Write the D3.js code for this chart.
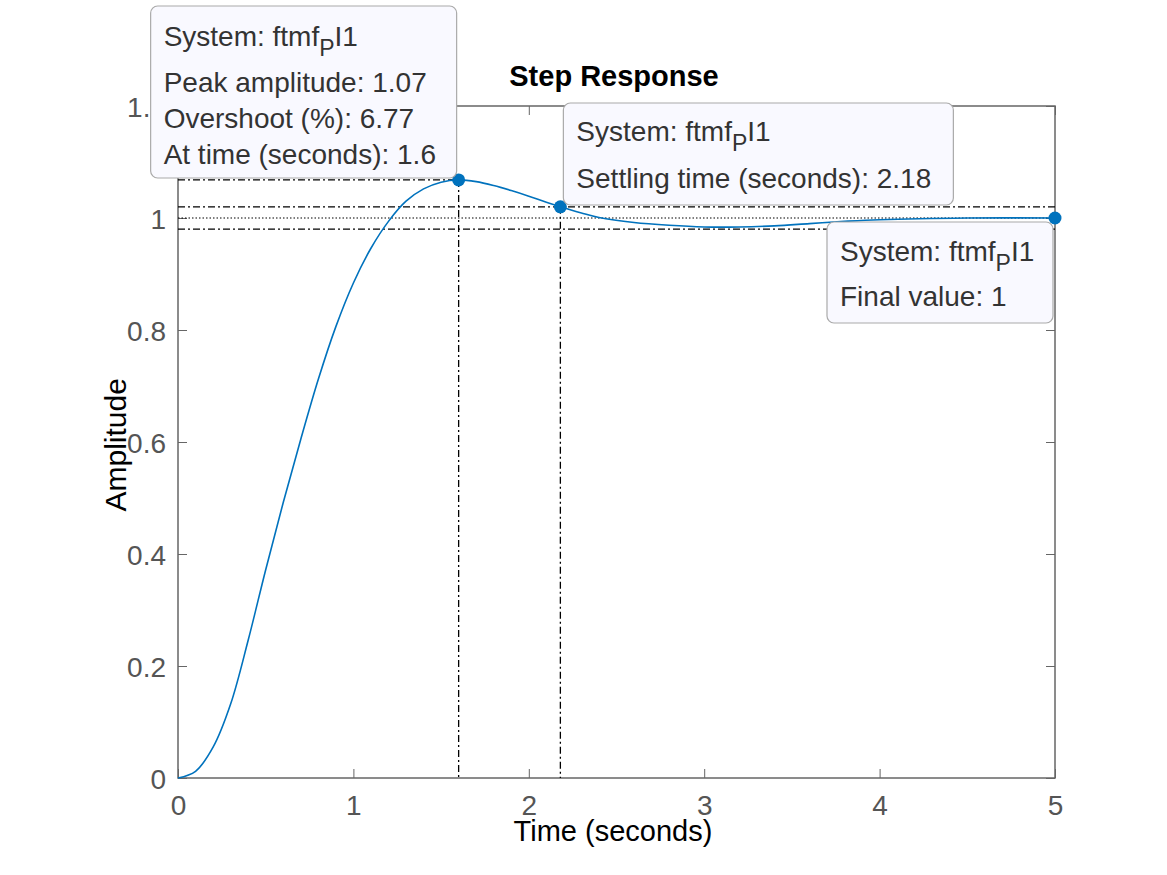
<html>
<head>
<style>
  body { margin: 0; background: #fff; }
  svg { font-family: "Liberation Sans", Arial, sans-serif; }
  .tick text { fill: #555; font-size: 28px; }
  .tick line { stroke: #666; }
  .domain { display: none; }
</style>
</head>
<body>
<svg width="1167" height="875"></svg>
<script src="https://d3js.org/d3.v7.min.js"></script>
<script>

let times = [0, 0.1, 0.2, 0.3, 0.4, 0.5, 0.6, 0.7, 0.8, 0.9, 1.0, 1.1, 1.2, 1.3, 1.4, 1.5, 1.6,
             1.7, 1.8, 1.9, 2.0, 2.1, 2.18, 2.3, 2.4, 2.6, 2.8, 3.0, 3.2, 3.4, 3.6, 3.8, 4.0, 4.5, 5.0]
let amplitude = [0, 0.012, 0.055, 0.132, 0.246, 0.372, 0.492, 0.605, 0.712, 0.806, 0.884, 0.946, 0.994, 1.03, 1.052, 1.064, 1.068,
                 1.065, 1.058, 1.049, 1.039, 1.028, 1.02, 1.009, 1.001, 0.992, 0.987, 0.984, 0.984, 0.986, 0.99, 0.994, 0.997, 1.0, 1.0]

let xTicks = [0, 1, 2, 3, 4, 5]
let yTicks = [0, 0.2, 0.4, 0.6, 0.8, 1, 1.2]

let peak = {t: 1.6, v: 1.068}
let settle = {t: 2.18, v: 1.02}
let finalV = {t: 5, v: 1}
let band = [0.98, 1.02]

let peakText = ["Peak amplitude: 1.07", "Overshoot (%): 6.77", "At time (seconds): 1.6"]
let settleText = ["Settling time (seconds): 2.18"]
let finalText = ["Final value: 1"]

let margin = {top: 106, right: 112, bottom: 97, left: 178}
let width = 1167, height = 875

let svg = d3.select("svg")

let x = d3.scaleLinear().domain([0, 5]).range([margin.left, width - margin.right])
let y = d3.scaleLinear().domain([0, 1.2]).range([height - margin.bottom, margin.top])

// axes with inward ticks on all four sides
let xAxis = svg.append("g").attr("transform", `translate(0, ${y(0)})`)
  .call(d3.axisBottom(x).tickValues(xTicks).tickFormat(d3.format("d")).tickSize(-9).tickPadding(17))
svg.append("g").attr("transform", `translate(0, ${y(1.2)})`)
  .call(d3.axisTop(x).tickValues(xTicks).tickSize(-9).tickFormat(""))
let yAxis = svg.append("g").attr("transform", `translate(${x(0)}, 0)`)
  .call(d3.axisLeft(y).tickValues(yTicks).tickFormat(d => d3.format("")(+d.toFixed(1))).tickSize(-9).tickPadding(12))
svg.append("g").attr("transform", `translate(${x(5)}, 0)`)
  .call(d3.axisRight(y).tickValues(yTicks).tickSize(-9).tickFormat(""))

yAxis.selectAll(".tick text").attr("dy", "0.36em")
xAxis.selectAll(".tick text").attr("dy", "0.72em")

svg.append("rect")
  .attr("x", x(0)).attr("y", y(1.2))
  .attr("width", x(5) - x(0)).attr("height", y(0) - y(1.2))
  .attr("fill", "none").attr("stroke", "#666").attr("stroke-width", 1.5)

// characteristic lines
let dashDot = "7,3,2,3"
let guides = svg.append("g").attr("stroke", "#000").attr("fill", "none").attr("stroke-width", 1.3)
guides.append("line").attr("x1", x(0)).attr("x2", x(peak.t)).attr("y1", y(peak.v)).attr("y2", y(peak.v)).attr("stroke-dasharray", dashDot)
guides.append("line").attr("x1", x(peak.t)).attr("x2", x(peak.t)).attr("y1", y(peak.v)).attr("y2", y(0)).attr("stroke-dasharray", dashDot)
band.forEach(b => {
  guides.append("line").attr("x1", x(0)).attr("x2", x(5)).attr("y1", y(b)).attr("y2", y(b)).attr("stroke-dasharray", dashDot)
})
guides.append("line").attr("x1", x(settle.t)).attr("x2", x(settle.t)).attr("y1", y(settle.v)).attr("y2", y(0)).attr("stroke-dasharray", dashDot)
guides.append("line").attr("x1", x(0)).attr("x2", x(5)).attr("y1", y(finalV.v)).attr("y2", y(finalV.v)).attr("stroke-dasharray", "1.5,2").attr("stroke-width", 1.1)

// step response
let data = times.map((t, i) => ({t: t, v: amplitude[i]}))
svg.append("path").datum(data)
  .attr("fill", "none").attr("stroke", "#0072BD").attr("stroke-width", 1.6)
  .attr("d", d3.line().x(d => x(d.t)).y(d => y(d.v)).curve(d3.curveCatmullRom.alpha(0.5)))

svg.selectAll(".marker").data([peak, settle, finalV]).join("circle")
  .attr("cx", d => x(d.t)).attr("cy", d => y(d.v)).attr("r", 6.5).attr("fill", "#0072BD")

// labels
svg.append("text").attr("x", 614).attr("y", 86).attr("text-anchor", "middle")
  .attr("font-weight", "bold").attr("font-size", 29).text("Step Response")
svg.append("text").attr("x", 613).attr("y", 841).attr("text-anchor", "middle")
  .attr("font-size", 29).text("Time (seconds)")
svg.append("text").attr("transform", `translate(126, ${y(0.595)}) rotate(-90)`).attr("text-anchor", "middle")
  .attr("font-size", 30).text("Amplitude")

// data tips
function tip(px, py, w, h, lines, offs) {
  let g = svg.append("g").attr("transform", `translate(${px}, ${py})`)
  g.append("rect").attr("width", w).attr("height", h).attr("rx", 7)
    .attr("fill", "#f9f9ff").attr("stroke", "#aaa").attr("stroke-width", 1.2)
  let t0 = g.append("text").attr("x", 13).attr("y", offs[0]).attr("font-size", 28).attr("fill", "#333")
  t0.append("tspan").text("System: ftmf")
  t0.append("tspan").attr("font-size", 23).attr("dy", 10).text("P")
  t0.append("tspan").attr("dy", -10).text("I1")
  lines.forEach((s, i) => {
    g.append("text").attr("x", 13).attr("y", offs[i + 1]).attr("font-size", 28).attr("fill", "#333").text(s)
  })
}

tip(x(peak.t) - 308, 6, 306, 172, peakText, [40, 86, 122, 158])
tip(x(settle.t) + 3, 103, 390, 102, settleText, [38, 85])
tip(x(finalV.t) - 228, y(finalV.v) + 4, 226, 101, finalText, [39, 84])

</script>
</body>
</html>
